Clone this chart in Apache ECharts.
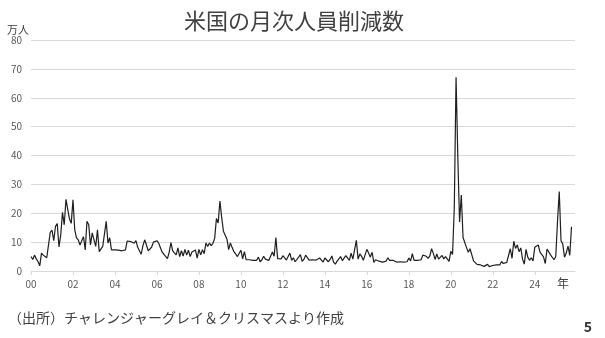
<!DOCTYPE html>
<html><head><meta charset="utf-8">
<script src="https://cdn.jsdelivr.net/npm/echarts@6/dist/echarts.min.js"></script>
<style>html,body{margin:0;padding:0;background:#fff}#c{width:605px;height:338px}</style>
</head><body><div id="c"></div>
<script>
const titleText = '米国の月次人員削減数';
const unitText = '万人';
const yearUnit = '年';
const sourceText = '（出所）チャレンジャーグレイ＆クリスマスより作成';
const pageNo = '5';
const startYear = 2000;
const endYear = 2025;
const xTickLabels = ['00','02','04','06','08','10','12','14','16','18','20','22','24'];
const yMin = 0, yMax = 80, yStep = 10;

// monthly job cuts, 万人
const v2000 = [5.0, 4.0, 5.5, 4.2, 3.3, 1.8, 6.2, 5.5, 5.0, 4.6, 4.3, 13.4];
const v2001 = [14.2, 10.5, 15.5, 16.4, 8.3, 12.5, 20.3, 16.0, 24.8, 24.2, 18.0, 16.5];
const v2002 = [24.7, 14.3, 11.5, 10.8, 9.0, 8.5, 11.9, 7.3, 17.2, 16.0, 9.0, 13.2];
const v2003 = [13.7, 8.5, 14.3, 6.7, 6.2, 8.5, 8.0, 17.2, 9.7, 11.5, 7.3, 7.0];
const v2004 = [7.3, 7.0, 7.2, 6.8, 7.0, 7.5, 7.3, 10.4, 10.7, 10.2, 10.6, 9.6];
const v2005 = [10.5, 8.2, 8.6, 5.8, 8.8, 10.8, 9.0, 7.0, 7.6, 8.3, 10.0, 10.6];
const v2006 = [10.5, 9.6, 9.0, 6.5, 5.8, 5.3, 4.3, 6.5, 9.8, 7.0, 7.6, 5.6];
const v2007 = [8.0, 5.0, 7.0, 5.2, 7.5, 5.5, 7.2, 5.0, 6.6, 6.0, 7.3, 4.5];
const v2008 = [7.5, 5.6, 7.4, 6.0, 9.7, 8.5, 9.7, 8.8, 9.6, 11.3, 18.2, 16.6];
const v2009 = [24.2, 18.6, 13.8, 13.2, 11.1, 7.4, 9.7, 8.1, 6.7, 5.9, 5.0, 4.5];
const v2010 = [7.2, 4.2, 6.7, 3.9, 3.9, 3.9, 3.8, 3.7, 3.7, 3.7, 4.8, 3.2];
const v2011 = [3.9, 5.1, 4.1, 3.7, 3.7, 4.1, 6.6, 5.1, 11.6, 4.3, 4.3, 4.2];
const v2012 = [5.3, 5.1, 3.8, 4.0, 6.2, 3.7, 4.6, 3.2, 3.4, 4.8, 5.7, 3.3];
const v2013 = [4.0, 5.5, 4.9, 3.8, 3.6, 3.9, 3.8, 3.8, 4.0, 4.5, 4.5, 3.1];
const v2014 = [4.5, 4.2, 3.2, 4.0, 5.2, 3.1, 2.4, 3.4, 3.2, 5.0, 3.6, 3.3];
const v2015 = [5.3, 5.1, 3.7, 6.2, 4.1, 4.5, 10.6, 4.1, 5.9, 5.1, 3.7, 3.3];
const v2016 = [7.5, 6.2, 4.8, 6.5, 3.0, 3.9, 4.5, 3.4, 4.0, 3.1, 2.7, 3.4];
const v2017 = [4.6, 3.7, 4.3, 3.7, 3.3, 3.1, 2.9, 3.2, 3.2, 3.1, 3.5, 3.2];
const v2018 = [4.5, 3.5, 6.0, 3.7, 3.2, 3.7, 3.7, 3.9, 5.5, 5.3, 5.1, 4.4];
const v2019 = [5.2, 7.7, 6.1, 4.0, 5.9, 4.1, 3.9, 5.4, 4.2, 5.0, 4.5, 3.3];
const v2020 = [6.8, 5.7, 22.2, 67.1, 39.7, 17.0, 26.3, 11.6, 11.9, 8.1, 6.5, 7.7];
const v2021 = [8.0, 3.5, 3.1, 2.3, 2.5, 2.1, 1.9, 1.6, 1.8, 2.3, 1.5, 1.9];
const v2022 = [1.9, 1.5, 2.1, 2.4, 2.1, 3.3, 2.6, 2.1, 3.0, 3.4, 7.7, 4.4];
const v2023 = [10.3, 7.8, 9.0, 6.7, 8.0, 4.1, 2.4, 7.5, 4.8, 3.7, 4.6, 3.5];
const v2024 = [8.2, 8.5, 9.0, 6.5, 6.4, 4.9, 2.6, 7.6, 7.3, 5.6, 5.8, 3.9];
const v2025 = [5.0, 17.2, 27.5, 10.5, 9.4, 4.8, 6.2, 8.6, 5.4, 15.3];

const values = [].concat(v2000, v2001, v2002, v2003, v2004, v2005, v2006, v2007, v2008, v2009,
  v2010, v2011, v2012, v2013, v2014, v2015, v2016, v2017, v2018, v2019,
  v2020, v2021, v2022, v2023, v2024, v2025);

const categories = [];
for (let y = startYear; y <= endYear; y++) {
  for (let m = 1; m <= 12; m++) categories.push(y + '-' + String(m).padStart(2, '0'));
}

const FONT = '"Noto Sans CJK JP", "Noto Sans", sans-serif';
const chart = echarts.init(document.getElementById('c'), null, {renderer: 'canvas'});
chart.setOption({
  animation: false,
  textStyle: {fontFamily: FONT},
  grid: {left: 31, right: 30, top: 40, bottom: 67},
  xAxis: {
    type: 'category',
    data: categories,
    boundaryGap: false,
    axisLine: {lineStyle: {color: '#d9d9d9', width: 1}},
    axisTick: {show: true, interval: (i) => i % 24 === 0, length: 4, lineStyle: {color: '#d9d9d9'}},
    axisLabel: {
      interval: (i) => i % 24 === 0,
      formatter: (v, i) => xTickLabels[i / 24] || '',
      color: '#595959', fontSize: 10, margin: 8, fontFamily: FONT
    },
    splitLine: {show: false}
  },
  yAxis: {
    type: 'value', min: yMin, max: yMax, interval: yStep,
    axisLine: {show: false}, axisTick: {show: false},
    splitLine: {lineStyle: {color: '#d9d9d9', width: 1}},
    axisLabel: {color: '#595959', fontSize: 10, margin: 9, fontFamily: FONT}
  },
  series: [{
    type: 'line', data: values, showSymbol: false, symbol: 'none',
    lineStyle: {color: '#1f1f1f', width: 1.2}
  }],
  graphic: [
    {type: 'text', x: 294, y: 21, style: {text: titleText, fill: '#404040', font: 'normal 22px ' + FONT, textAlign: 'center', textVerticalAlign: 'middle'}},
    {type: 'text', x: 7, y: 30, style: {text: unitText, fill: '#404040', font: 'normal 11px ' + FONT, textAlign: 'left', textVerticalAlign: 'middle'}},
    {type: 'text', x: 563, y: 283, style: {text: yearUnit, fill: '#404040', font: 'normal 12px ' + FONT, textAlign: 'center', textVerticalAlign: 'middle'}},
    {type: 'text', x: 8, y: 318, style: {text: sourceText, fill: '#404040', font: 'normal 14px ' + FONT, textAlign: 'left', textVerticalAlign: 'middle'}},
    {type: 'text', x: 588, y: 327, style: {text: pageNo, fill: '#333333', font: 'bold 14px ' + FONT, textAlign: 'center', textVerticalAlign: 'middle'}}
  ]
});
</script>
</body></html>
